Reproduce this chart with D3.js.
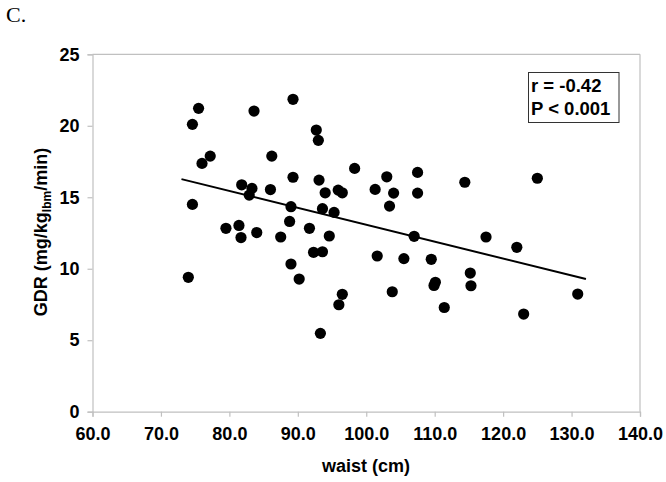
<!DOCTYPE html>
<html><head><meta charset="utf-8">
<script src="https://cdn.jsdelivr.net/npm/d3@7"></script>
<style>
html,body{margin:0;padding:0;background:#fff;}
svg{display:block;}
text{font-family:"Liberation Sans",Arial,sans-serif;}
</style></head>
<body>
<div id="chart"></div>
<script>
const waist = [74.0,74.6,75.5,74.6,76.0,77.2,79.5,81.4,81.7,81.8,83.3,82.9,83.6,84.0,86.0,86.2,87.5,88.8,89.0,89.0,89.3,89.3,90.2,91.7,92.3,92.7,93.0,93.1,93.3,93.6,93.6,94.0,94.6,95.3,95.9,96.5,96.5,96.0,98.3,101.3,101.6,103.0,103.4,103.8,104.0,105.5,107.0,107.5,107.5,109.5,110.1,109.9,111.4,114.4,115.2,115.3,117.5,122.0,123.0,125.0,130.9];
const gdr = [9.40,20.10,21.22,14.50,17.37,17.88,12.83,13.03,12.18,15.87,15.62,15.15,21.03,12.53,15.54,17.88,12.22,13.31,14.34,10.33,21.85,16.40,9.28,12.83,11.15,19.70,18.98,16.20,5.48,11.19,14.20,15.31,12.29,13.94,15.50,15.31,8.21,7.48,17.02,15.55,10.89,16.43,14.38,8.39,15.29,10.71,12.27,16.74,15.29,10.66,9.05,8.83,7.29,16.05,9.70,8.81,12.22,11.50,6.83,16.33,8.23];
const trendX = [73.0, 132.1];
const trendY = [16.27, 9.28];
const xTicks = [60,70,80,90,100,110,120,130,140];
const yTicks = [0,5,10,15,20,25];
const statLines = ["r = -0.42", "P < 0.001"];

const W = 666, H = 482;
const m = {left:92.5, right:26, top:54.3, bottom:70.3};
const svg = d3.select("#chart").append("svg").attr("width",W).attr("height",H);

const x = d3.scaleLinear().domain([60,140]).range([m.left, W-m.right]);
const y = d3.scaleLinear().domain([0,25]).range([H-m.bottom, m.top]);
const grey = "#c0c0c0";

// frame (top & right)
svg.append("line").attr("x1",x(60)).attr("x2",x(140)).attr("y1",y(25)).attr("y2",y(25)).attr("stroke",grey).attr("stroke-width",1.2);
svg.append("line").attr("x1",x(140)).attr("x2",x(140)).attr("y1",y(25)).attr("y2",y(0)).attr("stroke",grey).attr("stroke-width",1.2);

const xAxis = svg.append("g").attr("transform",`translate(0,${y(0)})`)
  .call(d3.axisBottom(x).tickValues(xTicks).tickFormat(d3.format(".1f")).tickSize(5).tickPadding(11));
const yAxis = svg.append("g").attr("transform",`translate(${x(60)},0)`)
  .call(d3.axisLeft(y).tickValues(yTicks).tickSize(5).tickPadding(8));
[xAxis,yAxis].forEach(g=>{
  g.select(".domain").attr("stroke",grey).attr("stroke-width",1.2);
  g.selectAll(".tick line").attr("stroke",grey).attr("stroke-width",1.2);
  g.selectAll(".tick text").attr("fill","#000").style("font-family",'"Liberation Sans",Arial,sans-serif')
    .style("font-size","18px").style("font-weight","bold");
});

// points
svg.append("g").selectAll("circle").data(waist.map((w,i)=>[w,gdr[i]])).join("circle")
  .attr("cx",d=>x(d[0])).attr("cy",d=>y(d[1])).attr("r",5.6).attr("fill","#000");

// trend line
svg.append("path").datum(trendX.map((v,i)=>[v,trendY[i]]))
  .attr("d",d3.line().x(d=>x(d[0])).y(d=>y(d[1])))
  .attr("stroke","#000").attr("stroke-width",2).attr("fill","none");

// stats box
svg.append("rect").attr("x",528.5).attr("y",72.5).attr("width",90.5).attr("height",50)
  .attr("fill","#fff").attr("stroke","#333").attr("stroke-width",1);
svg.append("g").selectAll("text").data(statLines).join("text")
  .attr("x",531).attr("y",(d,i)=>91.5+i*23.5)
  .attr("font-size","18.5px").attr("font-weight","bold").attr("fill","#000").text(d=>d);

// axis titles
svg.append("text").attr("x",366).attr("y",472).attr("text-anchor","middle")
  .attr("font-size","18px").attr("font-weight","bold").text("waist (cm)");
const yt = svg.append("text").attr("transform","translate(46.5,232) rotate(-90)")
  .attr("text-anchor","middle").attr("font-size","18px").attr("font-weight","bold");
yt.append("tspan").text("GDR (mg/kg");
yt.append("tspan").attr("font-size","12px").attr("dy",4).text("lbm");
yt.append("tspan").attr("dy",-4).text("/min)");

// panel label
svg.append("text").attr("x",6).attr("y",22).style("font-family",'"Liberation Serif","Times New Roman",serif')
  .attr("font-size","22px").text("C.");
</script>
</body></html>
